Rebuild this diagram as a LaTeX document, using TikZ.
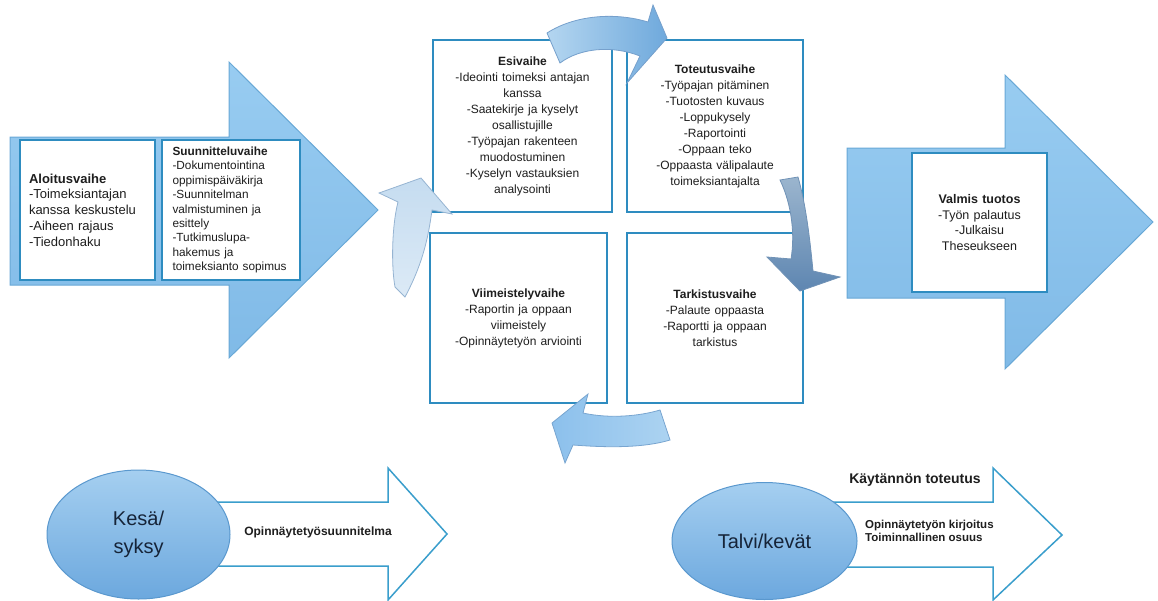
\documentclass[tikz,border=0pt]{standalone}
\usepackage{fontspec}
\setmainfont{Liberation Sans}
\usetikzlibrary{shapes.geometric}
\definecolor{bigA}{RGB}{152,204,241}
\definecolor{bigB}{RGB}{128,186,231}
\definecolor{bigline}{RGB}{104,168,214}
\definecolor{boxline}{RGB}{46,140,192}
\definecolor{outl}{RGB}{58,158,204}
\definecolor{txt}{RGB}{30,30,30}
\definecolor{ellA}{RGB}{165,207,240}
\definecolor{ellB}{RGB}{108,168,222}
\definecolor{elline}{RGB}{90,152,206}
\definecolor{elltxt}{RGB}{22,36,56}
\definecolor{topA}{RGB}{180,214,240}
\definecolor{topB}{RGB}{111,169,220}
\definecolor{topL}{RGB}{118,160,204}
\definecolor{rgtA}{RGB}{155,181,206}
\definecolor{rgtB}{RGB}{94,134,177}
\definecolor{rgtL}{RGB}{112,146,182}
\definecolor{botA}{RGB}{140,192,236}
\definecolor{botB}{RGB}{172,211,241}
\definecolor{botL}{RGB}{120,165,208}
\definecolor{lftA}{RGB}{197,220,240}
\definecolor{lftB}{RGB}{220,234,246}
\definecolor{lftL}{RGB}{150,180,210}
\begin{document}
\begin{tikzpicture}[x=1pt,y=-1pt,
  bigarrow/.style={top color=bigA, bottom color=bigB, draw=bigline, line width=1pt},
  phase/.style={draw=boxline, line width=2pt, fill=white, text=txt, inner sep=0pt,
    align=center, font=\fontsize{12}{16}\selectfont},
  outarrow/.style={draw=outl, line width=1.5pt, fill=white},
  season/.style={ellipse, inner sep=0pt, top color=ellA, bottom color=ellB, draw=elline,
    line width=1pt, text=elltxt, align=center, font=\fontsize{20}{28}\selectfont},
  lbl/.style={text=txt, inner sep=0pt, font=\bfseries\fontsize{12}{13}\selectfont},
  curved/.style={line width=0.8pt}
]
\useasboundingbox (0,0) rectangle (1158,600);

% big left arrow
\path[bigarrow] (10,137) -- (229,137) -- (229,62) -- (378,210) -- (229,358) -- (229,285) -- (10,285) -- cycle;
% big right arrow
\path[bigarrow] (847,148) -- (1005,148) -- (1005,75) -- (1153,222) -- (1005,369) -- (1005,298) -- (847,298) -- cycle;

% left boxes
\node[phase, minimum width=135pt, minimum height=140pt, align=left, font=\fontsize{13}{15.8}\selectfont,
  text width=117pt] (aloitus) at (87.5,210)
  {\textbf{Aloitusvaihe}\\-Toimeksiantajan\\kanssa keskustelu\\-Aiheen rajaus\\-Tiedonhaku};
\node[phase, minimum width=138pt, minimum height=140pt, align=left, font=\fontsize{11.8}{14.4}\selectfont,
  text width=117pt] (suunnittelu) at (231,210)
  {\textbf{Suunnitteluvaihe}\\-Dokumentointina\\oppimispäiväkirja\\-Suunnitelman\\valmistuminen ja\\esittely\\-Tutkimuslupa-\\hakemus ja\\toimeksianto sopimus};

% center boxes
\node[phase, minimum width=179pt, minimum height=172pt, text width=170pt] (esi) at (522.5,126)
  {\textbf{Esivaihe}\\-Ideointi toimeksi antajan\\kanssa\\-Saatekirje ja kyselyt\\osallistujille\\-Työpajan rakenteen\\muodostuminen\\-Kyselyn vastauksien\\analysointi};
\node[phase, minimum width=176pt, minimum height=172pt, text width=170pt] (toteutus) at (715,126)
  {\textbf{Toteutusvaihe}\\-Työpajan pitäminen\\-Tuotosten kuvaus\\-Loppukysely\\-Raportointi\\-Oppaan teko\\-Oppaasta välipalaute\\toimeksiantajalta};
\node[phase, minimum width=177pt, minimum height=170pt, text width=170pt] (viimeistely) at (518.5,318)
  {\textbf{Viimeistelyvaihe}\\-Raportin ja oppaan\\viimeistely\\-Opinnäytetyön arviointi};
\node[phase, minimum width=176pt, minimum height=170pt, text width=170pt] (tarkistus) at (715,318)
  {\textbf{Tarkistusvaihe}\\-Palaute oppaasta\\-Raportti ja oppaan\\tarkistus};

% right box
\node[phase, minimum width=135pt, minimum height=139pt, text width=130pt, font=\fontsize{12.5}{15.7}\selectfont] (valmis) at (979.5,222.5)
  {\textbf{Valmis tuotos}\\-Työn palautus\\-Julkaisu\\Theseukseen};

% curved arrows
\path[curved, left color=topA, right color=topB, draw=topL]
  (547,33) -- (560,63) .. controls (580,48) and (612,45) .. (640,56)
  -- (627,83) -- (667,38) -- (653,5) -- (648,22)
  .. controls (615,12) and (575,15) .. (547,33) -- cycle;
\path[curved, top color=rgtA, bottom color=rgtB, draw=rgtL]
  (780,180) -- (798,177) .. controls (806,205) and (810,240) .. (813,271)
  -- (840,277) -- (800,291) -- (767,257) -- (791,259)
  .. controls (795,235) and (792,205) .. (780,180) -- cycle;
\path[curved, left color=botA, right color=botB, draw=botL]
  (660,410) -- (670,440) .. controls (640,449) and (600,447) .. (573,445)
  -- (565,463) -- (552,423) -- (588,394) -- (583,413)
  .. controls (610,419) and (640,416) .. (660,410) -- cycle;
\path[curved, top color=lftA, bottom color=lftB, draw=lftL]
  (405,297) -- (395,287) .. controls (391,265) and (392,225) .. (398,202)
  -- (379,193) -- (421,178) -- (452,214) -- (432,210)
  .. controls (428,240) and (422,265) .. (405,297) -- cycle;

% bottom arrows
\path[outarrow] (200,502) -- (388,502) -- (388,468) -- (447,534) -- (388,600) -- (388,566) -- (200,566) -- cycle;
\path[outarrow] (820,502) -- (993,502) -- (993,468) -- (1062,535) -- (993,600) -- (993,567) -- (820,567) -- cycle;

\node[season, minimum width=183pt, minimum height=129pt] (kesa) at (138.5,534.5) {Kesä/\\syksy};
\node[season, minimum width=185pt, minimum height=117pt] (talvi) at (764.5,541) {Talvi/kevät};

\node[lbl] (suunnitelma) at (318,532) {Opinnäytetyösuunnitelma};
\node[lbl, font=\bfseries\fontsize{14}{16}\selectfont] (kaytanto) at (915,480) {Käytännön toteutus};
\node[lbl, anchor=west, align=left, font=\bfseries\fontsize{11.5}{13}\selectfont] (kirjoitus) at (865,531)
  {Opinnäytetyön kirjoitus\\Toiminnallinen osuus};
\end{tikzpicture}
\end{document}
